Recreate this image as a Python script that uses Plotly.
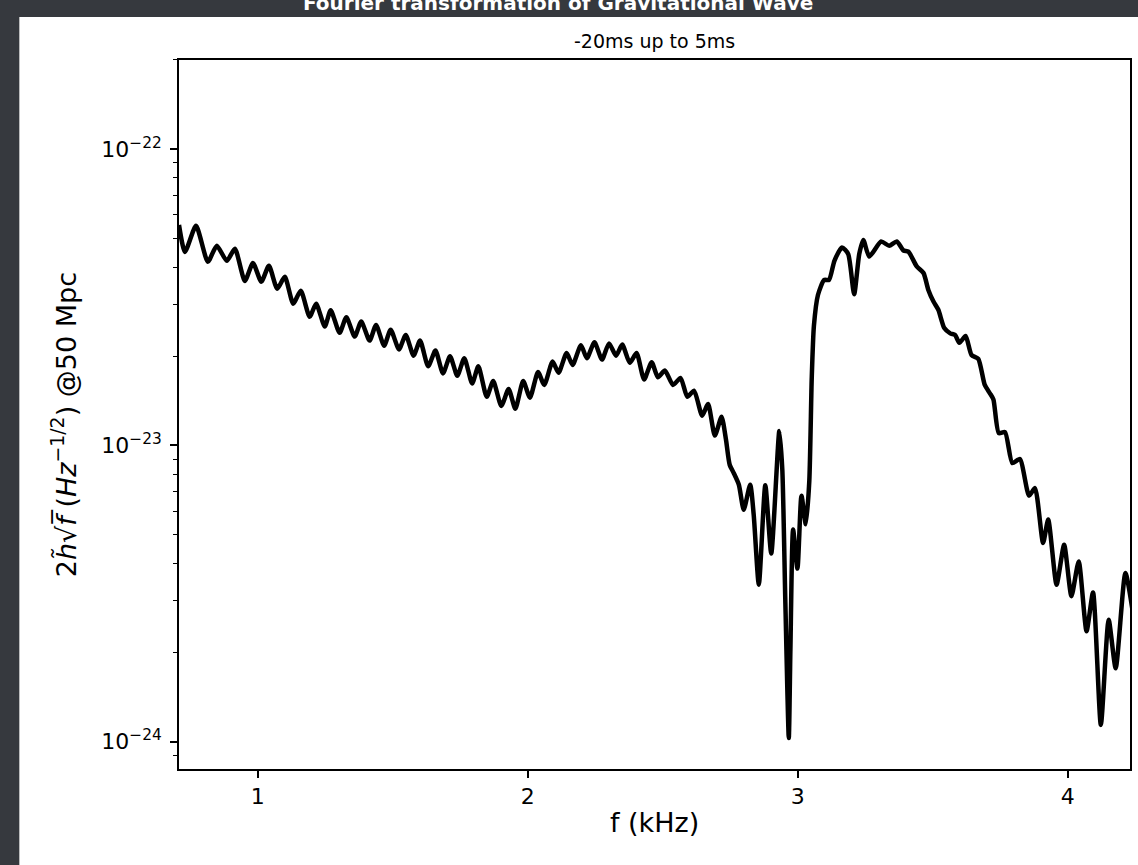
import plotly.graph_objects as go

# ---------------- data ----------------
freq_khz = [
    0.708, 0.730, 0.771, 0.815, 0.848, 0.885, 0.915, 0.952, 0.982, 1.013,
    1.041, 1.072, 1.100, 1.131, 1.159, 1.192, 1.216, 1.248, 1.270, 1.303,
    1.328, 1.359, 1.383, 1.414, 1.438, 1.468, 1.492, 1.523, 1.548, 1.577,
    1.601, 1.631, 1.658, 1.686, 1.712, 1.739, 1.765, 1.794, 1.817, 1.848,
    1.872, 1.902, 1.929, 1.954, 1.983, 2.008, 2.038, 2.061, 2.092, 2.114,
    2.144, 2.166, 2.197, 2.219, 2.247, 2.275, 2.301, 2.327, 2.350, 2.378,
    2.403, 2.431, 2.459, 2.482, 2.508, 2.538, 2.566, 2.591, 2.616, 2.646,
    2.668, 2.693, 2.718, 2.734, 2.748, 2.763, 2.782, 2.800, 2.824, 2.837,
    2.856, 2.880, 2.902, 2.932, 2.943, 2.954, 2.967, 2.973, 2.983, 2.999,
    3.014, 3.030, 3.043, 3.052, 3.060, 3.075, 3.098, 3.116, 3.136, 3.164,
    3.187, 3.209, 3.228, 3.243, 3.265, 3.309, 3.339, 3.367, 3.392, 3.410,
    3.441, 3.466, 3.484, 3.503, 3.521, 3.543, 3.565, 3.583, 3.599, 3.622,
    3.644, 3.669, 3.693, 3.712, 3.725, 3.745, 3.768, 3.795, 3.823, 3.857,
    3.879, 3.909, 3.928, 3.959, 3.987, 4.014, 4.041, 4.070, 4.094, 4.123,
    4.152, 4.178, 4.214, 4.245,
]

# amplitude in units of 1e-23 Hz^-1/2
amp_e23 = [
    5.55, 4.50, 5.51, 4.17, 4.72, 4.20, 4.61, 3.59, 4.13, 3.57,
    4.04, 3.38, 3.71, 3.01, 3.33, 2.72, 3.01, 2.52, 2.86, 2.40,
    2.71, 2.33, 2.62, 2.26, 2.55, 2.17, 2.46, 2.11, 2.36, 2.01,
    2.26, 1.85, 2.09, 1.75, 2.00, 1.72, 1.97, 1.62, 1.85, 1.46,
    1.65, 1.36, 1.55, 1.33, 1.65, 1.45, 1.77, 1.60, 1.92, 1.76,
    2.05, 1.87, 2.18, 1.97, 2.23, 1.95, 2.21, 2.01, 2.19, 1.90,
    2.05, 1.67, 1.91, 1.70, 1.79, 1.60, 1.69, 1.46, 1.53, 1.26,
    1.38, 1.08, 1.25, 1.05, 0.861, 0.807, 0.737, 0.607, 0.737, 0.584,
    0.339, 0.734, 0.432, 1.12, 0.828, 0.302, 0.103, 0.205, 0.520, 0.384,
    0.677, 0.542, 0.760, 1.69, 2.53, 3.22, 3.62, 3.62, 4.20, 4.66,
    4.43, 3.24, 4.43, 4.94, 4.34, 4.88, 4.72, 4.88, 4.55, 4.51,
    4.02, 3.82, 3.35, 3.06, 2.87, 2.49, 2.39, 2.36, 2.22, 2.34,
    2.02, 1.96, 1.60, 1.50, 1.43, 1.10, 1.11, 0.872, 0.900, 0.677,
    0.718, 0.469, 0.562, 0.339, 0.462, 0.310, 0.406, 0.236, 0.319, 0.114,
    0.258, 0.177, 0.371, 0.26,
]
amplitude = [v * 1e-23 for v in amp_e23]

title_text = "Fourier transformation of Gravitational Wave"
subtitle_text = "-20ms up to 5ms"
x_label = "f (kHz)"
y_label = "2<i>h\u0303</i>\u221a<i>f\u0305</i> (<i>Hz</i><sup>\u22121/2</sup>) @50 Mpc"

x_tick_vals = [1, 2, 3, 4]
x_tick_text = ["1", "2", "3", "4"]
y_tick_vals = [1e-24, 1e-23, 1e-22]
y_tick_text = ["10<sup>\u221224</sup>", "10<sup>\u221223</sup>", "10<sup>\u221222</sup>"]
y_minor_vals = ([9e-25] + [k * 1e-24 for k in range(2, 10)]
                + [k * 1e-23 for k in range(2, 10)] + [2e-22])

x_range = [0.708, 4.231]
y_range_log = [-24.092, -21.699]

# ---------------- figure ----------------
W, H = 1138, 865
ML, MR, MT, MB = 179, 6, 60, 96
PW, PH = W - ML - MR, H - MT - MB


def px_x(px):
    return (px - ML) / PW


def px_y(py):
    return (H - MB - py) / PH


fig = go.Figure()
fig.add_trace(go.Scatter(
    x=freq_khz, y=amplitude, mode="lines",
    line=dict(color="black", width=4.5, shape="spline", smoothing=0.6),
    hoverinfo="skip", showlegend=False,
))

tick_font = dict(family="DejaVu Sans", size=22, color="black")
label_font = dict(family="DejaVu Sans", size=27, color="black")

fig.update_layout(
    width=W, height=H,
    margin=dict(l=ML, r=MR, t=MT, b=MB, pad=0),
    paper_bgcolor="#36393e",
    plot_bgcolor="white",
    showlegend=False,
    xaxis=dict(
        range=x_range, tickmode="array", tickvals=x_tick_vals, ticktext=x_tick_text,
        ticks="outside", ticklen=7, tickwidth=1.5, tickcolor="black",
        showline=True, linecolor="black", linewidth=1.6, mirror=True,
        showgrid=False, zeroline=False, tickfont=tick_font,
    ),
    yaxis=dict(
        type="log", range=y_range_log, tickmode="array",
        tickvals=y_tick_vals, ticktext=y_tick_text,
        ticks="outside", ticklen=7, tickwidth=1.5, tickcolor="black",
        showline=True, linecolor="black", linewidth=1.6, mirror=True,
        showgrid=False, zeroline=False, tickfont=tick_font,
        ticklabelstandoff=4,
        minor=dict(tickmode="array", tickvals=y_minor_vals, ticks="outside",
                   ticklen=4, tickwidth=1.2, tickcolor="black", showgrid=False),
    ),
    shapes=[dict(
        type="rect", xref="paper", yref="paper", layer="below",
        x0=px_x(19), x1=px_x(W + 5), y0=px_y(H + 5), y1=px_y(17),
        fillcolor="white", line=dict(width=0),
    )],
    annotations=[
        dict(text=f"<b>{title_text}</b>", xref="paper", yref="paper",
             x=px_x(559), y=px_y(17), xanchor="center", yanchor="bottom",
             showarrow=False,
             font=dict(family="DejaVu Sans", size=20, color="white")),
        dict(text=subtitle_text, xref="paper", yref="paper",
             x=0.5, y=px_y(41), xanchor="center", yanchor="middle",
             showarrow=False, font=dict(family="DejaVu Sans", size=19, color="black")),
        dict(text=x_label, xref="paper", yref="paper",
             x=0.5, y=px_y(822), xanchor="center", yanchor="middle",
             showarrow=False, font=label_font),
        dict(text=y_label, xref="paper", yref="paper", textangle=-90,
             x=px_x(63), y=px_y(425), xanchor="center", yanchor="middle",
             showarrow=False, font=label_font),
    ],
)

fig.write_html("out.html")
